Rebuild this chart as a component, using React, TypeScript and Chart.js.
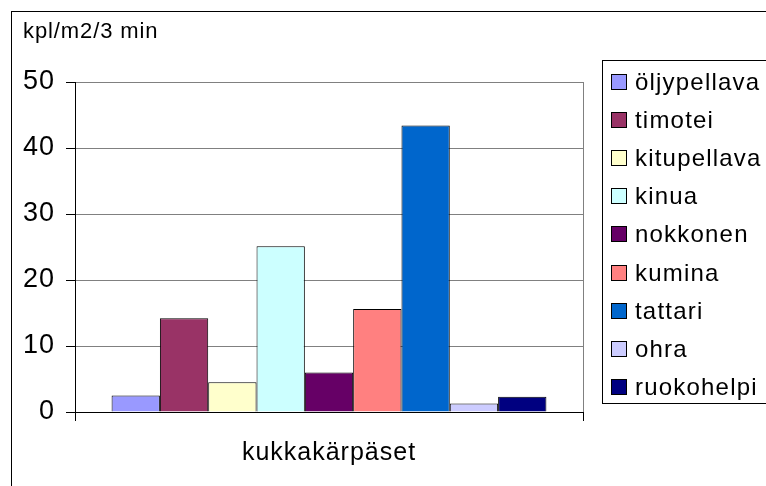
import React, { useEffect, useRef } from "react";
import { Chart, registerables } from "chart.js";

Chart.register(...registerables);

const categories = ["kukkakärpäset"];
const seriesNames = ["öljypellava", "timotei", "kitupellava", "kinua", "nokkonen", "kumina", "tattari", "ohra", "ruokohelpi"];
const seriesValues = [2.5, 14.2, 4.5, 25.1, 6.0, 15.6, 43.4, 1.3, 2.3];
const seriesColors = ["#9999FF", "#993366", "#FFFFCC", "#CCFFFF", "#660066", "#FF8080", "#0066CC", "#CCCCFF", "#000080"];
const yMin = 0;
const yMax = 50;
const yStep = 10;
const unitLabel = "kpl/m2/3 min";

const FONT = '"Liberation Sans", Arial, sans-serif';

const decorPlugin = {
  id: "decor",
  beforeDraw(chart: any) {
    const ctx = chart.ctx;
    ctx.letterSpacing = "1px";
    ctx.save();
    ctx.fillStyle = "#fff";
    ctx.fillRect(0, 0, chart.width, chart.height);
    ctx.strokeStyle = "#000";
    ctx.lineWidth = 1;
    ctx.strokeRect(11.5, 11.5, 800, 500);
    ctx.fillStyle = "#000";
    ctx.letterSpacing = "0.9px";
    ctx.font = `22px ${FONT}`;
    ctx.textBaseline = "alphabetic";
    ctx.textAlign = "left";
    ctx.fillText(unitLabel, 23, 38);
    ctx.restore();
  },
  afterDraw(chart: any) {
    const ctx = chart.ctx;
    ctx.save();
    ctx.strokeStyle = "#000";
    ctx.lineWidth = 1;
    ctx.strokeRect(602.5, 60.5, 200, 343);
    ctx.letterSpacing = "1.2px";
    ctx.font = `24px ${FONT}`;
    ctx.textBaseline = "middle";
    ctx.textAlign = "left";
    seriesNames.forEach((name, i) => {
      const cy = Math.round(82 + i * 38.1);
      ctx.fillStyle = seriesColors[i];
      ctx.fillRect(611.5, cy - 7.5, 15, 15);
      ctx.strokeStyle = "#000";
      ctx.strokeRect(611.5, cy - 7.5, 15, 15);
      ctx.fillStyle = "#000";
      ctx.fillText(name, 635, cy + 1);
    });
    ctx.restore();
  },
};

export default function App() {
  const ref = useRef<HTMLCanvasElement>(null);
  useEffect(() => {
    if (!ref.current) return;
    const chart = new Chart(ref.current, {
      type: "bar",
      data: {
        labels: categories,
        datasets: seriesNames.map((name, i) => ({
          label: name,
          data: [seriesValues[i]],
          backgroundColor: seriesColors[i],
          borderColor: "#000",
          borderWidth: 1,
        })),
      },
      options: {
        responsive: false,
        animation: false,
        devicePixelRatio: 1,
        categoryPercentage: 0.856,
        barPercentage: 1,
        layout: { padding: { left: 0, top: 82, right: 766 - 583, bottom: 0 } },
        plugins: { legend: { display: false }, tooltip: { enabled: false }, title: { display: false } },
        scales: {
          x: {
            offset: true,
            grid: { display: true, offset: true, color: "#808080", tickColor: "#000", tickLength: 9, drawOnChartArea: true },
            border: { display: true, color: "#000", width: 1 },
            ticks: { color: "#000", font: { family: FONT, size: 25 }, padding: 17 },
            afterFit: (s: any) => { s.height = 486 - 412; },
          },
          y: {
            min: yMin,
            max: yMax,
            grid: { color: "#808080", tickColor: "#000", tickLength: 9 },
            border: { display: true, color: "#000", width: 1 },
            ticks: { stepSize: yStep, color: "#000", font: { family: FONT, size: 27 }, padding: 11 },
            afterFit: (s: any) => { s.width = 75; },
          },
        },
      } as any,
      plugins: [decorPlugin],
    });
    return () => chart.destroy();
  }, []);
  return (
    <div style={{ position: "absolute", left: 0, top: 0, width: 766, height: 486 }}>
      <canvas ref={ref} width={766} height={486} style={{ display: "block" }} />
    </div>
  );
}
